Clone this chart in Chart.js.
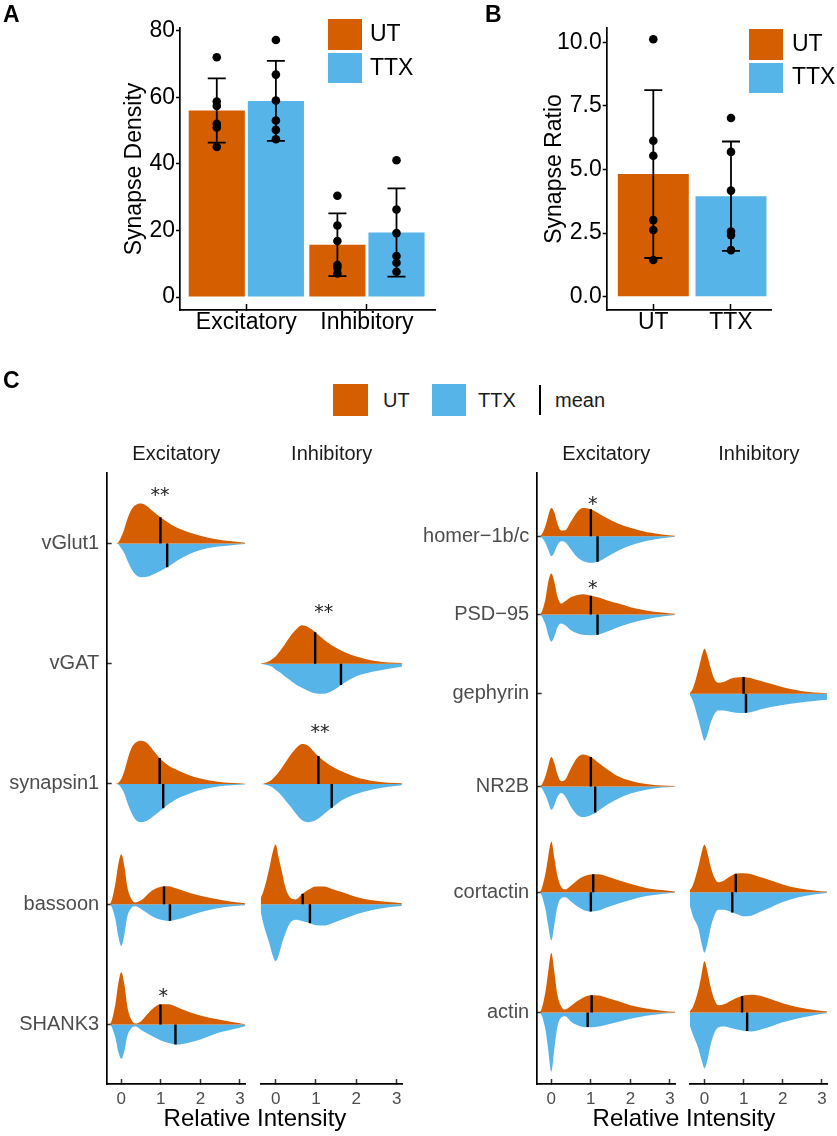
<!DOCTYPE html>
<html><head><meta charset="utf-8">
<script src="https://cdn.jsdelivr.net/npm/chart.js@4.4.1/dist/chart.umd.min.js"></script>
<style>
html,body{margin:0;padding:0;background:#fff;}
body{width:837px;height:1136px;position:relative;overflow:hidden;font-family:'Liberation Sans',Arial,Helvetica,sans-serif;color:#000;}
canvas{position:absolute;display:block;}
.t{position:absolute;white-space:nowrap;line-height:1;}
.box{position:absolute;}
</style></head>
<body>
<canvas id="cA" width="440" height="340" style="left:0;top:0"></canvas>
<canvas id="cB" width="397" height="340" style="left:440px;top:0"></canvas>
<canvas id="cLE" width="255" height="706" style="left:0;top:430px"></canvas>
<canvas id="cLI" width="160" height="706" style="left:255px;top:430px"></canvas>
<canvas id="cRE" width="265" height="706" style="left:420px;top:430px"></canvas>
<canvas id="cRI" width="152" height="706" style="left:685px;top:430px"></canvas>

<div class="t" style="left:3px;top:3px;font-size:23px;font-weight:bold">A</div>
<div class="t" style="left:485px;top:3px;font-size:23px;font-weight:bold">B</div>
<div class="t" style="left:3px;top:369px;font-size:23px;font-weight:bold">C</div>

<div class="box" style="left:328px;top:19px;width:34px;height:31px;background:#D55E00"></div>
<div class="box" style="left:328px;top:53px;width:34px;height:30px;background:#56B4E9"></div>
<div class="t" style="left:370px;top:22px;font-size:23px">UT</div>
<div class="t" style="left:370px;top:56px;font-size:23px">TTX</div>

<div class="box" style="left:749px;top:29px;width:34px;height:31px;background:#D55E00"></div>
<div class="box" style="left:749px;top:63px;width:34px;height:30px;background:#56B4E9"></div>
<div class="t" style="left:792px;top:32px;font-size:23px">UT</div>
<div class="t" style="left:792px;top:65px;font-size:23px">TTX</div>

<div class="box" style="left:333px;top:384px;width:35px;height:32px;background:#D55E00"></div>
<div class="t" style="left:383px;top:390px;font-size:20px;color:#1a1a1a">UT</div>
<div class="box" style="left:432px;top:384px;width:34px;height:32px;background:#56B4E9"></div>
<div class="t" style="left:478px;top:390px;font-size:20px;color:#1a1a1a">TTX</div>
<div class="box" style="left:539px;top:385px;width:2px;height:30px;background:#000"></div>
<div class="t" style="left:555px;top:390px;font-size:20px;color:#1a1a1a">mean</div>

<div class="t" style="left:255px;top:1106px;font-size:24px;transform:translateX(-50%)">Relative Intensity</div>
<div class="t" style="left:684px;top:1106px;font-size:24px;transform:translateX(-50%)">Relative Intensity</div>

<script>
const C_UT = '#D55E00', C_TTX = '#56B4E9';
Chart.defaults.font.family = "'Liberation Sans', Arial, Helvetica, sans-serif";

// ---------- Panel A data ----------
const catsA = ['Excitatory', 'Inhibitory'];
const barA_UT = [56.0, 15.7];
const barA_TTX = [58.9, 19.4];
const errA_UT = [9.65, 9.45];
const errA_TTX = [12.0, 13.25];
const ptsA_UT_Exc = [72.0, 58.7, 57.4, 52.0, 50.9, 45.1];
const ptsA_UT_Inh = [30.4, 21.5, 16.8, 9.6, 8.8, 7.1];
const ptsA_TTX_Exc = [77.2, 66.8, 59.0, 53.0, 50.2, 47.4];
const ptsA_TTX_Inh = [41.1, 26.3, 19.2, 12.3, 10.3, 7.6];
const ticksA = [0, 20, 40, 60, 80];

// ---------- Panel B data ----------
const catsB = ['UT', 'TTX'];
const barB = [4.82, 3.95];
const errB = [3.3, 2.15];
const ptsB_UT = [10.12, 6.13, 5.54, 3.01, 2.62, 1.44];
const ptsB_TTX = [7.02, 5.69, 4.17, 2.56, 2.42, 1.83];
const ticksB = [0, 2.5, 5, 7.5, 10];

// ---------- Panel C data ----------
const xGrid = [-0.4,-0.3,-0.15,-0.08,0,0.08,0.15,0.25,0.35,0.5,0.65,0.8,1.0,1.2,1.4,1.7,2.0,2.4,2.8,3.13];
const xTicksC = [0, 1, 2, 3];
const rowsL = ['vGlut1', 'vGAT', 'synapsin1', 'bassoon', 'SHANK3'];
const rowPosL = [1, 2, 3, 4, 5];
const rowsR = ['homer\u22121b/c', 'PSD\u221295', 'gephyrin', 'NR2B', 'cortactin', 'actin'];
const rowPosR = [0.94, 1.59, 2.25, 3.02, 3.9, 4.9];

// densities on xGrid (UT above, TTX below); means [UT, TTX]
const vGlut1_Exc_UT  = [0,0,0,0.03,0.22,0.5,0.8,1.11,1.27,1.33,1.24,1.07,0.86,0.68,0.53,0.37,0.26,0.14,0.07,0.02];
const vGlut1_Exc_TTX = [0,0,0,0.02,0.17,0.33,0.56,0.83,1.02,1.12,1.11,1.03,0.91,0.76,0.58,0.37,0.22,0.11,0.06,0.02];
const vGlut1_Exc_mean = [0.99, 1.16];
const vGAT_Inh_UT  = [0,0.02,0.09,0.16,0.24,0.37,0.5,0.69,0.89,1.13,1.28,1.22,1.03,0.8,0.61,0.39,0.24,0.11,0.04,0.02];
const vGAT_Inh_TTX = [0,0.02,0.07,0.11,0.2,0.27,0.33,0.44,0.54,0.69,0.8,0.9,0.99,1.0,0.91,0.64,0.42,0.27,0.17,0.1];
const vGAT_Inh_mean = [0.98, 1.62];
const synapsin1_Exc_UT  = [0,0,0,0.03,0.17,0.44,0.78,1.17,1.36,1.44,1.36,1.13,0.82,0.61,0.47,0.3,0.18,0.08,0.03,0.01];
const synapsin1_Exc_TTX = [0,0,0,0.02,0.13,0.33,0.61,0.94,1.17,1.27,1.22,1.08,0.87,0.67,0.5,0.33,0.2,0.09,0.04,0.02];
const synapsin1_Exc_mean = [0.97, 1.06];
const synapsin1_Inh_UT  = [0,0.01,0.09,0.16,0.27,0.4,0.53,0.73,0.93,1.18,1.33,1.28,1.0,0.76,0.58,0.38,0.22,0.1,0.04,0.02];
const synapsin1_Inh_TTX = [0,0.01,0.07,0.12,0.2,0.29,0.39,0.56,0.72,0.98,1.2,1.27,1.2,1.0,0.78,0.5,0.33,0.18,0.09,0.04];
const synapsin1_Inh_mean = [1.06, 1.39];
const bassoon_Exc_UT  = [0,0,0.69,1.3,1.66,1.24,0.58,0.19,0.06,0.13,0.31,0.47,0.58,0.6,0.52,0.39,0.28,0.17,0.08,0.03];
const bassoon_Exc_TTX = [0,0,0.5,1.06,1.39,0.98,0.42,0.13,0.07,0.16,0.29,0.42,0.52,0.56,0.51,0.39,0.27,0.14,0.07,0.03];
const bassoon_Exc_mean = [1.08, 1.23];
const bassoon_Inh_UT  = [0.11,0.44,1.24,1.69,1.99,1.52,1.11,0.52,0.24,0.16,0.33,0.47,0.59,0.59,0.51,0.38,0.24,0.13,0.07,0.03];
const bassoon_Inh_TTX = [0.06,0.67,1.33,1.67,1.89,1.67,1.33,0.94,0.64,0.52,0.56,0.61,0.7,0.71,0.63,0.48,0.33,0.19,0.1,0.06];
const bassoon_Inh_mean = [0.67, 0.85];
const SHANK3_Exc_UT  = [0,0,0.67,1.33,1.74,1.31,0.61,0.17,0.03,0.11,0.33,0.53,0.67,0.67,0.58,0.42,0.3,0.18,0.08,0.01];
const SHANK3_Exc_TTX = [0,0,0.44,0.89,1.14,0.87,0.39,0.13,0.07,0.18,0.29,0.4,0.53,0.62,0.67,0.61,0.5,0.3,0.17,0.06];
const SHANK3_Exc_mean = [0.99, 1.37];

const homer_Exc_UT  = [0,0,0.33,0.67,0.94,0.78,0.44,0.19,0.2,0.5,0.8,0.94,0.9,0.76,0.61,0.42,0.28,0.14,0.06,0.02];
const homer_Exc_TTX = [0,0,0.22,0.44,0.66,0.53,0.31,0.17,0.2,0.44,0.69,0.82,0.88,0.84,0.69,0.47,0.31,0.16,0.07,0.02];
const homer_Exc_mean = [1.0, 1.17];
const PSD95_Exc_UT  = [0,0,0.5,1.06,1.36,1.06,0.61,0.36,0.44,0.58,0.64,0.67,0.62,0.56,0.47,0.36,0.24,0.13,0.06,0.02];
const PSD95_Exc_TTX = [0,0,0.33,0.67,0.91,0.72,0.44,0.3,0.36,0.53,0.63,0.68,0.69,0.67,0.58,0.42,0.29,0.16,0.07,0.02];
const PSD95_Exc_mean = [1.0, 1.17];
const gephyrin_Inh_UT  = [0,0.17,0.83,1.2,1.5,1.24,0.89,0.5,0.37,0.4,0.49,0.54,0.56,0.52,0.44,0.33,0.22,0.11,0.04,0.02];
const gephyrin_Inh_TTX = [0,0.22,0.89,1.24,1.56,1.33,1.0,0.69,0.56,0.56,0.6,0.63,0.64,0.61,0.53,0.44,0.37,0.3,0.24,0.2];
const gephyrin_Inh_mean = [1.0, 1.06];
const NR2B_Exc_UT  = [0,0,0.33,0.67,0.98,0.76,0.42,0.17,0.22,0.61,0.94,1.06,0.98,0.78,0.58,0.33,0.19,0.08,0.03,0.01];
const NR2B_Exc_TTX = [0,0,0.28,0.53,0.78,0.61,0.36,0.22,0.33,0.69,0.94,1.02,0.96,0.8,0.62,0.4,0.24,0.11,0.04,0.01];
const NR2B_Exc_mean = [1.0, 1.11];
const cortactin_Exc_UT  = [0,0,0.61,1.17,1.69,1.11,0.56,0.17,0.09,0.22,0.39,0.51,0.59,0.6,0.53,0.4,0.28,0.14,0.07,0.02];
const cortactin_Exc_TTX = [0,0,0.56,1.11,1.61,1.06,0.5,0.2,0.17,0.31,0.47,0.58,0.64,0.61,0.51,0.38,0.26,0.13,0.06,0.02];
const cortactin_Exc_mean = [1.06, 1.0];
const cortactin_Inh_UT  = [0.02,0.22,0.89,1.28,1.58,1.28,0.89,0.5,0.33,0.39,0.52,0.61,0.63,0.6,0.51,0.39,0.26,0.13,0.06,0.02];
const cortactin_Inh_TTX = [0.33,0.78,1.22,1.67,2.01,1.67,1.22,0.78,0.58,0.58,0.64,0.72,0.8,0.78,0.67,0.5,0.33,0.17,0.08,0.03];
const cortactin_Inh_mean = [0.8, 0.71];
const actin_Exc_UT  = [0,0,0.67,1.33,1.98,1.31,0.61,0.2,0.1,0.22,0.37,0.49,0.57,0.56,0.49,0.37,0.24,0.13,0.06,0.02];
const actin_Exc_TTX = [0,0,0.56,1.22,1.97,1.17,0.5,0.17,0.13,0.31,0.42,0.48,0.49,0.47,0.41,0.31,0.21,0.11,0.04,0.02];
const actin_Exc_mean = [1.02, 0.92];
const actin_Inh_UT  = [0,0.17,0.78,1.22,1.7,1.33,0.89,0.44,0.24,0.27,0.37,0.47,0.56,0.59,0.56,0.44,0.31,0.17,0.08,0.03];
const actin_Inh_TTX = [0.33,0.72,1.22,1.56,1.86,1.56,1.11,0.69,0.5,0.47,0.51,0.56,0.61,0.63,0.58,0.47,0.33,0.19,0.09,0.03];
const actin_Inh_mean = [0.96, 1.09];

// significance marks: x (relative intensity), h (height above baseline, density units)
const sigLE = [{row:'vGlut1', x:0.98, text:'**', h:1.72}, {row:'SHANK3', x:1.06, text:'*', h:1.07}];
const sigLI = [{row:'vGAT', x:1.19, text:'**', h:1.85}, {row:'synapsin1', x:1.1, text:'**', h:1.83}];
const sigRE = [{row:'homer\u22121b/c', x:1.05, text:'*', h:1.2}, {row:'PSD\u221295', x:1.05, text:'*', h:0.98}];
const sigRI = [];

// ---------- helpers ----------
const axisBorder = {display:true, color:'#000', width:1.7};
function tickGrid(len, color){ return {display:true, drawOnChartArea:false, drawTicks:true, tickLength:len, tickColor:color, tickWidth:1.5, offset:false}; }

function errorBarPlugin(items){
  return {id:'errbars', afterDatasetsDraw(chart){
    const ctx = chart.ctx, xs = chart.scales.x, ys = chart.scales.y;
    ctx.save(); ctx.strokeStyle = '#000'; ctx.lineWidth = 1.8;
    items.forEach(it => {
      const px = xs.getPixelForValue(it.x);
      const top = ys.getPixelForValue(it.mean + it.err);
      const bot = ys.getPixelForValue(it.mean - it.err);
      ctx.beginPath();
      ctx.moveTo(px, top); ctx.lineTo(px, bot);
      ctx.moveTo(px - 9, top); ctx.lineTo(px + 9, top);
      ctx.moveTo(px - 9, bot); ctx.lineTo(px + 9, bot);
      ctx.stroke();
    });
    ctx.restore();
  }};
}

function pointSet(xv, vals){ return vals.map(v => ({x: xv, y: v})); }

// ---------- Panel A ----------
const catPctA = 0.98, dodgeA = catPctA / 4;
new Chart(document.getElementById('cA'), {
  type: 'bar',
  data: {datasets: [
    {label:'UT', data: catsA.map((c,i)=>({x:i+1, y:barA_UT[i]})), backgroundColor:C_UT, borderWidth:0, categoryPercentage:catPctA, barPercentage:0.95, order:2},
    {label:'TTX', data: catsA.map((c,i)=>({x:i+1, y:barA_TTX[i]})), backgroundColor:C_TTX, borderWidth:0, categoryPercentage:catPctA, barPercentage:0.95, order:2},
    {type:'scatter', data: pointSet(1-dodgeA, ptsA_UT_Exc).concat(pointSet(2-dodgeA, ptsA_UT_Inh)), pointRadius:4.3, pointBackgroundColor:'#000', pointBorderWidth:0, order:1},
    {type:'scatter', data: pointSet(1+dodgeA, ptsA_TTX_Exc).concat(pointSet(2+dodgeA, ptsA_TTX_Inh)), pointRadius:4.3, pointBackgroundColor:'#000', pointBorderWidth:0, order:1}
  ]},
  options: {
    responsive:false, animation:false, events:[],
    layout:{padding:{top:28, right:3, left:0, bottom:0}},
    plugins:{legend:{display:false}, tooltip:{enabled:false}},
    scales:{
      x:{type:'linear', min:0.45, max:2.57, offset:false,
        afterBuildTicks: s => { s.ticks = catsA.map((c,i)=>({value:i+1})); },
        ticks:{color:'#000', font:{size:23}, padding:5, maxRotation:0, autoSkip:false, callback: v => catsA[Math.round(v)-1]},
        grid: tickGrid(-6, '#000'), border: axisBorder,
        afterFit: s => { s.height = 30; }},
      y:{min:-3.9, max:80.8,
        afterBuildTicks: s => { s.ticks = ticksA.map(v=>({value:v})); },
        ticks:{color:'#000', font:{size:23}, padding:1, callback: v => String(v)},
        grid: tickGrid(4, '#000'), border: axisBorder,
        title:{display:true, text:'Synapse Density', color:'#000', font:{size:23}, padding:{top:121, bottom:0}},
        afterFit: s => { s.width = 180; }}
    }
  },
  plugins:[errorBarPlugin([
    {x:1-dodgeA, mean:barA_UT[0], err:errA_UT[0]}, {x:2-dodgeA, mean:barA_UT[1], err:errA_UT[1]},
    {x:1+dodgeA, mean:barA_TTX[0], err:errA_TTX[0]}, {x:2+dodgeA, mean:barA_TTX[1], err:errA_TTX[1]}
  ])]
});

// ---------- Panel B ----------
new Chart(document.getElementById('cB'), {
  type: 'bar',
  data: {datasets: [
    {label:'ratio', data: catsB.map((c,i)=>({x:i+1, y:barB[i]})), backgroundColor:[C_UT, C_TTX], borderWidth:0, categoryPercentage:0.914, barPercentage:1, order:2},
    {type:'scatter', data: pointSet(1, ptsB_UT).concat(pointSet(2, ptsB_TTX)), pointRadius:4.3, pointBackgroundColor:'#000', pointBorderWidth:0, order:1}
  ]},
  options: {
    responsive:false, animation:false, events:[],
    layout:{padding:{top:28, right:65.3, left:0, bottom:0}},
    plugins:{legend:{display:false}, tooltip:{enabled:false}},
    scales:{
      x:{type:'linear', min:0.4, max:2.524, offset:false,
        afterBuildTicks: s => { s.ticks = catsB.map((c,i)=>({value:i+1})); },
        ticks:{color:'#000', font:{size:23}, padding:5, maxRotation:0, autoSkip:false, callback: v => catsB[Math.round(v)-1]},
        grid: tickGrid(-6, '#000'), border: axisBorder,
        afterFit: s => { s.height = 30; }},
      y:{min:-0.523, max:10.56,
        afterBuildTicks: s => { s.ticks = ticksB.map(v=>({value:v})); },
        ticks:{color:'#000', font:{size:23}, padding:1, callback: v => Number(v).toFixed(1)},
        grid: tickGrid(4, '#000'), border: axisBorder,
        title:{display:true, text:'Synapse Ratio', color:'#000', font:{size:23}, padding:{top:101, bottom:0}},
        afterFit: s => { s.width = 166.7; }}
    }
  },
  plugins:[errorBarPlugin([
    {x:1, mean:barB[0], err:errB[0]}, {x:2, mean:barB[1], err:errB[1]}
  ])]
});

// ---------- Panel C ----------
const DENS = 0.25; // row units per density unit
function densAt(arr, x){
  for (let i = 0; i < xGrid.length - 1; i++) {
    if (x >= xGrid[i] && x <= xGrid[i+1]) {
      const t = (x - xGrid[i]) / (xGrid[i+1] - xGrid[i]);
      return arr[i] + (arr[i+1] - arr[i]) * t;
    }
  }
  return 0;
}

function sigPlugin(marks, rows, rowPos){
  return {id:'sig', afterDatasetsDraw(chart){
    const ctx = chart.ctx, xs = chart.scales.x, ys = chart.scales.y;
    ctx.save(); ctx.fillStyle = '#222'; ctx.font = "19px 'DejaVu Sans'";
    ctx.textAlign = 'center'; ctx.textBaseline = 'alphabetic';
    marks.forEach(m => {
      const r = rowPos[rows.indexOf(m.row)];
      const px = xs.getPixelForValue(m.x);
      const cy = ys.getPixelForValue(r - m.h * DENS);
      const mt = ctx.measureText(m.text);
      const off = (mt.actualBoundingBoxAscent - mt.actualBoundingBoxDescent) / 2;
      ctx.fillText(m.text, px, cy + off);
    });
    ctx.restore();
  }};
}

function facetChart(id, rows, rowPos, violins, sigs, title, showY, yWidth, padL, padR){
  const fills = [], lines = [];
  violins.forEach(v => {
    const r = rowPos[rows.indexOf(v.row)];
    fills.push({data: xGrid.map((x,i)=>({x:x, y:r - v.ut[i]*DENS})), fill:{value:r}, backgroundColor:C_UT,
      borderColor:'rgba(0,0,0,0)', borderWidth:0, pointRadius:0, cubicInterpolationMode:'monotone', order:2});
    fills.push({data: xGrid.map((x,i)=>({x:x, y:r + v.ttx[i]*DENS})), fill:{value:r}, backgroundColor:C_TTX,
      borderColor:'rgba(0,0,0,0)', borderWidth:0, pointRadius:0, cubicInterpolationMode:'monotone', order:2});
    lines.push({data:[{x:v.mean[0], y:r}, {x:v.mean[0], y:r - densAt(v.ut, v.mean[0])*DENS}],
      borderColor:'#000', borderWidth:2.4, pointRadius:0, fill:false, tension:0, order:1});
    lines.push({data:[{x:v.mean[1], y:r}, {x:v.mean[1], y:r + densAt(v.ttx, v.mean[1])*DENS}],
      borderColor:'#000', borderWidth:2.4, pointRadius:0, fill:false, tension:0, order:1});
  });
  return new Chart(document.getElementById(id), {
    type:'line',
    data:{datasets: fills.concat(lines)},
    options:{
      responsive:false, animation:false, events:[],
      layout:{padding:{left:padL, right:padR, top:0, bottom:0}},
      plugins:{legend:{display:false}, tooltip:{enabled:false},
        title:{display:true, text:title, color:'#1a1a1a', font:{size:20, weight:'normal'}, padding:{top:12, bottom:7}, fullSize:false}},
      scales:{
        x:{type:'linear', min:-0.37, max:3.15,
          afterBuildTicks: s => { s.ticks = xTicksC.map(v=>({value:v})); },
          ticks:{color:'#4d4d4d', font:{size:17}, padding:10, maxRotation:0, autoSkip:false, callback: v => String(v)},
          grid: tickGrid(-5, '#333'), border: axisBorder,
          afterFit: s => { s.height = 52; }},
        y:{type:'linear', reverse:true, min:0.414, max:5.495, display:showY,
          afterBuildTicks: s => { s.ticks = rowPos.map(v=>({value:v})); },
          ticks:{color:'#4d4d4d', font:{size:20}, padding:12.5, autoSkip:false, callback: v => rows[rowPos.indexOf(v)]},
          grid: tickGrid(-5, '#333'), border: axisBorder,
          afterFit: s => { s.width = yWidth; }}
      }
    },
    plugins:[sigPlugin(sigs, rows, rowPos)]
  });
}

facetChart('cLE', rowsL, rowPosL, [
  {row:'vGlut1', ut:vGlut1_Exc_UT, ttx:vGlut1_Exc_TTX, mean:vGlut1_Exc_mean},
  {row:'synapsin1', ut:synapsin1_Exc_UT, ttx:synapsin1_Exc_TTX, mean:synapsin1_Exc_mean},
  {row:'bassoon', ut:bassoon_Exc_UT, ttx:bassoon_Exc_TTX, mean:bassoon_Exc_mean},
  {row:'SHANK3', ut:SHANK3_Exc_UT, ttx:SHANK3_Exc_TTX, mean:SHANK3_Exc_mean}
], sigLE, 'Excitatory', true, 106.7, 0, 6.7);

facetChart('cLI', rowsL, rowPosL, [
  {row:'vGAT', ut:vGAT_Inh_UT, ttx:vGAT_Inh_TTX, mean:vGAT_Inh_mean},
  {row:'synapsin1', ut:synapsin1_Inh_UT, ttx:synapsin1_Inh_TTX, mean:synapsin1_Inh_mean},
  {row:'bassoon', ut:bassoon_Inh_UT, ttx:bassoon_Inh_TTX, mean:bassoon_Inh_mean}
], sigLI, 'Inhibitory', false, 0, 5.7, 12.3);

facetChart('cRE', rowsR, rowPosR, [
  {row:'homer\u22121b/c', ut:homer_Exc_UT, ttx:homer_Exc_TTX, mean:homer_Exc_mean},
  {row:'PSD\u221295', ut:PSD95_Exc_UT, ttx:PSD95_Exc_TTX, mean:PSD95_Exc_mean},
  {row:'NR2B', ut:NR2B_Exc_UT, ttx:NR2B_Exc_TTX, mean:NR2B_Exc_mean},
  {row:'cortactin', ut:cortactin_Exc_UT, ttx:cortactin_Exc_TTX, mean:cortactin_Exc_mean},
  {row:'actin', ut:actin_Exc_UT, ttx:actin_Exc_TTX, mean:actin_Exc_mean}
], sigRE, 'Excitatory', true, 116.7, 0, 6.7);

facetChart('cRI', rowsR, rowPosR, [
  {row:'gephyrin', ut:gephyrin_Inh_UT, ttx:gephyrin_Inh_TTX, mean:gephyrin_Inh_mean},
  {row:'cortactin', ut:cortactin_Inh_UT, ttx:cortactin_Inh_TTX, mean:cortactin_Inh_mean},
  {row:'actin', ut:actin_Inh_UT, ttx:actin_Inh_TTX, mean:actin_Inh_mean}
], sigRI, 'Inhibitory', false, 0, 5, 5.3);
</script>
</body></html>
